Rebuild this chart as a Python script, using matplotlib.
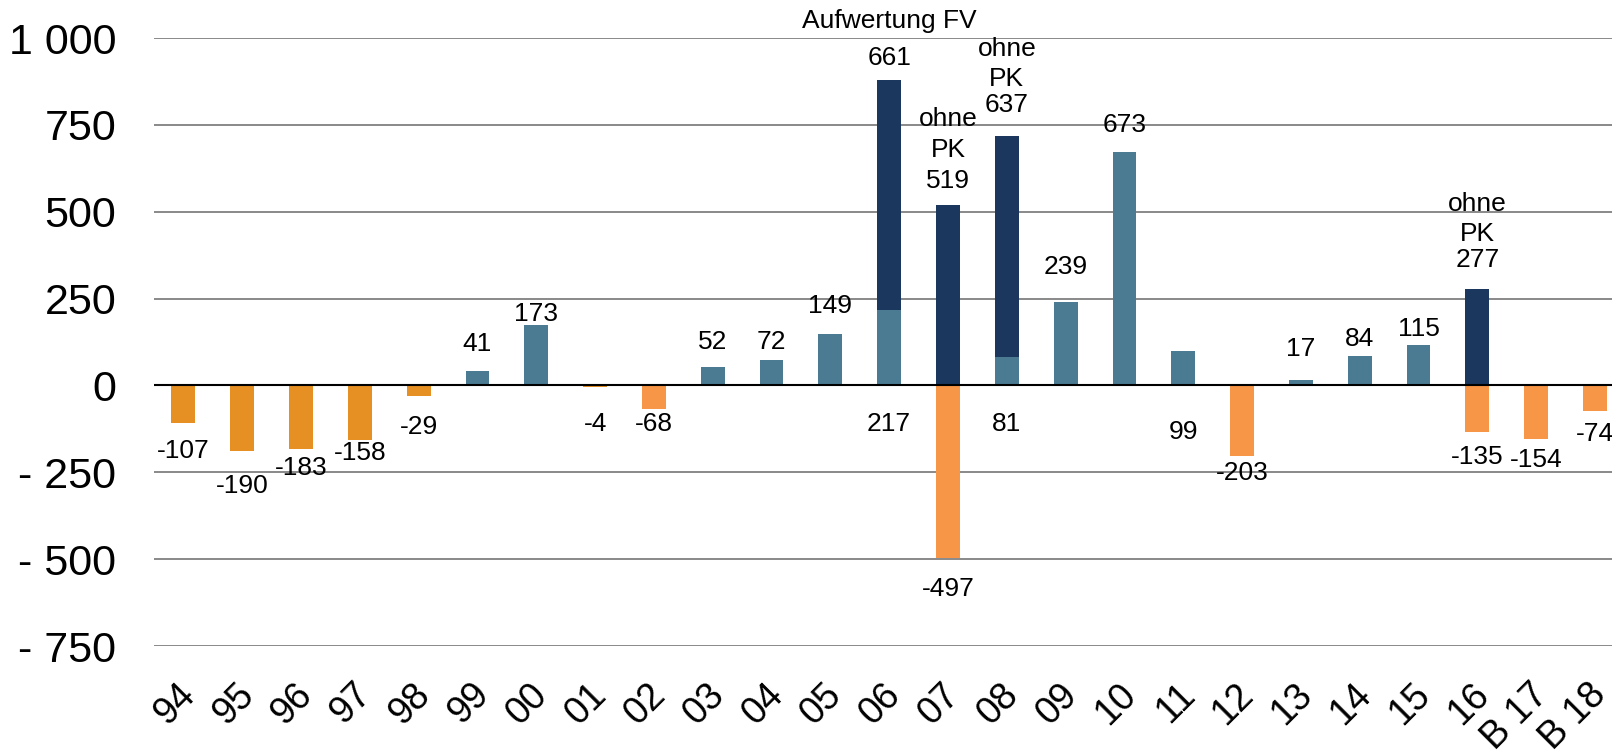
import numpy as np
import matplotlib.pyplot as plt
from matplotlib.transforms import ScaledTranslation

plt.rcParams['font.family'] = ['Liberation Sans', 'DejaVu Sans']

# Jahre und Werte
years = ['94', '95', '96', '97', '98', '99', '00', '01', '02', '03', '04', '05', '06',
         '07', '08', '09', '10', '11', '12', '13', '14', '15', '16', 'B 17', 'B 18']
saldo = [-107, -190, -183, -158, -29, 41, 173, -4, -68, 52, 72, 149, 217,
         -497, 81, 239, 673, 99, -203, 17, 84, 115, -135, -154, -74]
ohne_pk = [0, 0, 0, 0, 0, 0, 0, 0, 0, 0, 0, 0, 661,
           519, 637, 0, 0, 0, 0, 0, 0, 0, 277, 0, 0]
pk_note = ['', '', '', '', '', '', '', '', '', '', '', '', 'Aufwertung FV',
           'ohne\nPK', 'ohne\nPK', '', '', '', '', '', '', '', 'ohne\nPK', '', '']

# Lage der Beschriftungen (Mitte, in Achseneinheiten)
lab_y = [-190, -289, -237, -195, -120, 118, 207, -110, -110, 124, 124, 228, -112,
         -586, -112, 340, 749, -133, -252, 104, 133, 163, -207, -216, -139]
top_y = [0, 0, 0, 0, 0, 0, 0, 0, 0, 0, 0, 0, 942,
         588, 808, 0, 0, 0, 0, 0, 0, 0, 361, 0, 0]
note_off = [0, 0, 0, 0, 0, 0, 0, 0, 0, 0, 0, 0, 18,
            14, 10, 0, 0, 0, 0, 0, 0, 0, 10, 0, 0]

yticks = [1000, 750, 500, 250, 0, -250, -500, -750]
ytick_labels = ['1 000', '750', '500', '250', '0', '- 250', '- 500', '- 750']

light = {'02', '07', '12', '16', 'B 17', 'B 18'}
c_teal = '#4A7B93'
c_navy = '#1B375E'
c_orange = '#E68F22'
c_lorange = '#F79646'

saldo = np.array(saldo)
ohne_pk = np.array(ohne_pk)
x = np.arange(len(years))

colors = []
for yr, v in zip(years, saldo):
    if v >= 0:
        colors.append(c_teal)
    elif yr in light:
        colors.append(c_lorange)
    else:
        colors.append(c_orange)

fig = plt.figure(figsize=(16.12, 7.56), dpi=100)
ax = fig.add_axes([0.0955, 0.1455, 0.9045, 0.8042])

w = 0.405
ax.bar(x, saldo, width=w, color=colors, zorder=3)
mask = ohne_pk > 0
ax.bar(x[mask], ohne_pk[mask], bottom=np.maximum(saldo, 0)[mask], width=w,
       color=c_navy, zorder=3)

for t in yticks:
    ax.axhline(t, color='#808080', lw=1.3, zorder=1)
ax.axhline(0, color='black', lw=1.5, zorder=4)

for i in range(len(years)):
    ax.text(x[i], lab_y[i], str(saldo[i]), ha='center', va='center', fontsize=19)
    if ohne_pk[i] > 0:
        ax.text(x[i], top_y[i], str(ohne_pk[i]), ha='center', va='center',
                fontsize=19, clip_on=False)
        # Zusatztext über der Zahl
        ax.annotate(pk_note[i], (x[i], top_y[i]), xytext=(0, note_off[i]),
                    textcoords='offset points', ha='center', va='bottom',
                    fontsize=19, linespacing=1.33, annotation_clip=False)

ax.set_xlim(-0.5, 24.29)
ax.set_ylim(-750, 1000)
ax.set_yticks(yticks)
ax.set_yticklabels(ytick_labels, fontsize=31)
ax.set_xticks(x)
ax.set_xticklabels(years, fontsize=27, rotation=45, ha='right', va='center',
                   rotation_mode='anchor')
ax.tick_params(axis='y', length=0, pad=27)
ax.tick_params(axis='x', length=0, pad=31)
shift = ScaledTranslation(6 / 100, 0, fig.dpi_scale_trans)
for lab in ax.get_xticklabels():
    lab.set_transform(lab.get_transform() + shift)
for s in ax.spines.values():
    s.set_visible(False)

fig.savefig('out.png', dpi=100)
